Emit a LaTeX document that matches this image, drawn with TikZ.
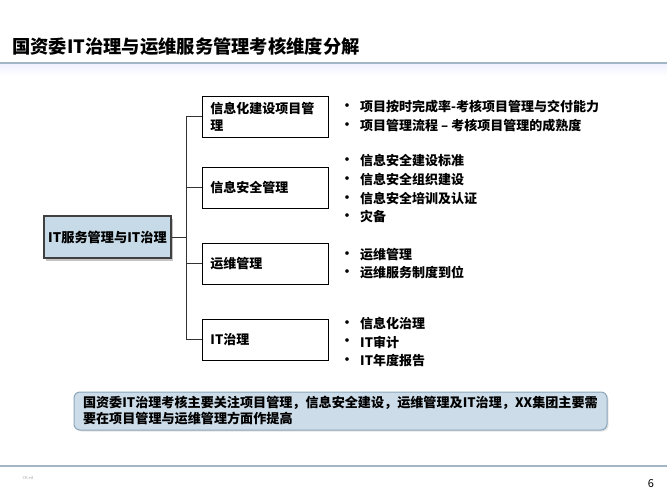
\documentclass[tikz,border=0pt]{standalone}
\usepackage{fontspec}
\setmainfont{Noto Sans CJK SC}
\usetikzlibrary{positioning,shadows}
\definecolor{boxblue}{HTML}{C6DAE7}
\definecolor{notefill}{HTML}{CCDDE9}
\definecolor{noteline}{HTML}{8AA6BB}
\definecolor{rulecol}{HTML}{A3B6C5}
\tikzset{
  dim/.style={draw=black,line width=0.9pt,minimum width=126pt,minimum height=41pt,
    inner xsep=8pt,text width=110pt,align=left,anchor=west,
    font=\bfseries\fontsize{13}{17}\selectfont},
  root/.style={draw=black!75,line width=1.2pt,fill=boxblue,minimum width=127pt,minimum height=42pt,
    drop shadow={shadow xshift=2pt,shadow yshift=-2.5pt,fill=black!45},
    font=\bfseries\fontsize{13.2}{15}\selectfont},
  link/.style={draw=black!80,line width=1pt},
  item/.style={anchor=west,inner sep=0pt,font=\bfseries\fontsize{13}{15}\selectfont},
  dot/.style={inner sep=0pt,font=\bfseries\fontsize{13}{15}\selectfont},
}
\begin{document}
\begin{tikzpicture}[x=1pt,y=-1pt]
  \useasboundingbox (0,0) rectangle (667,500);
  % title and rules
  \node[anchor=west,inner sep=0pt,font=\bfseries\fontsize{18.3}{20}\selectfont] (title) at (12,47)
    {国资委IT治理与运维服务管理考核维度分解};
  \shade[top color=blue!6,bottom color=white] (0,63) rectangle (667,76);
  \draw[rulecol,line width=1.3pt] (0,63) -- (667,63);
  \draw[rulecol,line width=1.1pt] (0,466) -- (667,466);
  \node[text=black!35,inner sep=0pt,font=\fontsize{4}{5}\selectfont] (tag) at (28,478) {CK ed};
  \node[inner sep=0pt,font=\fontsize{11}{13}\selectfont] (page) at (651,484) {6};
  % tree
  \node[root] (main) at (107.5,237) {IT服务管理与IT治理};
  \node[dim] (b1) at (202,116.5) {信息化建设项目管\\理};
  \node[dim] (b2) at (202,187.5) {信息安全管理};
  \node[dim] (b3) at (202,263.5) {运维管理};
  \node[dim] (b4) at (202,339.5) {IT治理};
  \coordinate (hub) at (186,237);
  \draw[link] (main.east) -- (hub);
  \draw[link] (hub |- b1.west) -- (hub |- b4.west);
  \foreach \b in {b1,b2,b3,b4}
    \draw[link] (hub |- \b.west) -- (\b.west);
  % bullets
  \foreach \y/\t [count=\i] in {107/项目按时完成率-考核项目管理与交付能力,
      126/项目管理流程 – 考核项目管理的成熟度,
      161/信息安全建设标准,180/信息安全组织建设,199/信息安全培训及认证,217/灾备,
      255/运维管理,273/运维服务制度到位,
      324/信息化治理,342/IT审计,361/IT年度报告} {
    \node[dot] (d\i) at (347,\y) {•};
    \node[item] (r\i) at (360,\y) {\t};
  }
  % note
  \node[draw=noteline,line width=1pt,fill=notefill,rounded corners=6pt,
    minimum width=533pt,minimum height=38pt,inner xsep=9pt,text width=515pt,align=left,
    drop shadow={shadow xshift=1.5pt,shadow yshift=-1.5pt,fill=black!20},
    font=\bfseries\fontsize{13.1}{16}\selectfont] (note) at (340.5,411)
    {国资委IT治理考核主要关注项目管理，信息安全建设，运维管理及IT治理，XX集团主要需\\要在项目管理与运维管理方面作提高};
\end{tikzpicture}
\end{document}
